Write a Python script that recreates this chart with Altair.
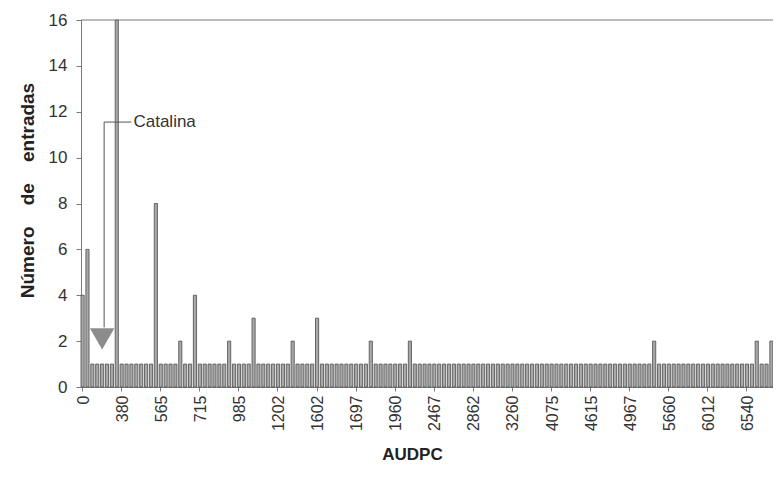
import json
import altair as alt
import pandas as pd

# ---- data ----
x_labels = ["0", "380", "565", "715", "985", "1202", "1602", "1697", "1960",
            "2467", "2862", "3260", "4075", "4615", "4967", "5660", "6012", "6540"]
label_step = 8

counts = [
    4, 6, 1, 1, 1, 1, 1, 16, 1, 1,
    1, 1, 1, 1, 1, 8, 1, 1, 1, 1,
    2, 1, 1, 4, 1, 1, 1, 1, 1, 1,
    2, 1, 1, 1, 1, 3, 1, 1, 1, 1,
    1, 1, 1, 2, 1, 1, 1, 1, 3, 1,
    1, 1, 1, 1, 1, 1, 1, 1, 1, 2,
    1, 1, 1, 1, 1, 1, 1, 2, 1, 1,
    1, 1, 1, 1, 1, 1, 1, 1, 1, 1,
    1, 1, 1, 1, 1, 1, 1, 1, 1, 1,
    1, 1, 1, 1, 1, 1, 1, 1, 1, 1,
    1, 1, 1, 1, 1, 1, 1, 1, 1, 1,
    1, 1, 1, 1, 1, 1, 1, 2, 1, 1,
    1, 1, 1, 1, 1, 1, 1, 1, 1, 1,
    1, 1, 1, 1, 1, 1, 1, 1, 2, 1,
    1, 2,
]

catalina_idx = [4]
catalina_text_idx = [10]
catalina_label = ["Catalina"]
catalina_line_top = [11.55]
catalina_line_bottom = [2.6]
catalina_arrow_y = [2.1]
frame_top = [16]

# ---- chart ----
N = len(counts)
font = "Liberation Sans"
W, H = 692, 367
txt = "#333333"
axc = "#7a7a7a"

bars_df = pd.DataFrame({"idx": list(range(N)), "n": counts})
ann_df = pd.DataFrame({
    "idx": catalina_idx, "idx2": catalina_text_idx, "label": catalina_label,
    "top": catalina_line_top, "bottom": catalina_line_bottom, "arrow": catalina_arrow_y,
})
frame_df = pd.DataFrame({"y": frame_top})

x_scale = alt.Scale(domain=list(range(N)), paddingInner=0.35, paddingOuter=0)
y_scale = alt.Scale(domain=[0, 16], nice=False)

label_expr = ("datum.value % " + str(label_step) + " == 0 ? " + json.dumps(x_labels)
              + "[floor(datum.value / " + str(label_step) + ")] : ''")

x_axis = alt.Axis(
    values=[i * label_step for i in range(len(x_labels))],
    labelExpr=label_expr, labelAngle=270, labelFont=font, labelFontSize=16,
    labelColor=txt, labelPadding=4, labelOffset=1, tickSize=4, tickColor=axc,
    domainColor=axc, grid=False,
    title="AUDPC", titleFont=font, titleFontSize=17, titleFontWeight="bold",
    titleColor="#222222", titleX=331, titleY=72, titleAlign="center",
    titleBaseline="alphabetic",
)
y_axis = alt.Axis(
    values=list(range(0, 17, 2)), labelFont=font, labelFontSize=17, labelColor=txt,
    labelPadding=9, tickSize=5, tickColor=axc, domainColor=axc, grid=False,
    title="Número\u00a0\u00a0\u00a0\u00a0de\u00a0\u00a0\u00a0\u00a0entradas",
    titleFont=font, titleFontSize=19, titleFontWeight="bold", titleColor="#222222",
    titleAngle=270, titleX=-48, titleY=170, titleBaseline="alphabetic", titleAlign="center",
)

bars = alt.Chart(bars_df).mark_bar(
    fill="#a8a8a8", stroke="#4d4d4d", strokeWidth=0.8
).encode(
    x=alt.X("idx:O", scale=x_scale, axis=x_axis),
    y=alt.Y("n:Q", scale=y_scale, axis=y_axis),
)

frame = alt.Chart(frame_df).mark_rule(color=axc, strokeWidth=1.2).encode(
    y=alt.Y("y:Q", scale=y_scale), x=alt.value(0), x2=alt.value(W)
)

vline = alt.Chart(ann_df).mark_rule(color="#555555", strokeWidth=1, xOffset=2).encode(
    x=alt.X("idx:O", scale=x_scale), y=alt.Y("top:Q", scale=y_scale),
    y2="bottom:Q",
)
hline = alt.Chart(ann_df).mark_rule(color="#555555", strokeWidth=1, xOffset=2).encode(
    x=alt.X("idx:O", scale=x_scale), x2="idx2:O", y=alt.Y("top:Q", scale=y_scale),
)
arrow = alt.Chart(ann_df).mark_point(
    shape="triangle-down", filled=True, size=600, color="#8c8c8c", opacity=1
).encode(
    x=alt.X("idx:O", scale=x_scale), y=alt.Y("arrow:Q", scale=y_scale),
)
label = alt.Chart(ann_df).mark_text(
    align="left", baseline="middle", dx=2, font=font, fontSize=17, color=txt
).encode(
    x=alt.X("idx2:O", scale=x_scale), y=alt.Y("top:Q", scale=y_scale), text="label:N",
)

chart = alt.layer(bars, frame, vline, hline, arrow, label).properties(
    width=W, height=H,
    autosize=alt.AutoSizeParams(type="none"),
    padding={"left": 73, "top": 12, "right": 0, "bottom": 94},
    background="white",
).configure_view(stroke=None)

chart.save("out.html", embed_options={"renderer": "svg", "actions": False})
